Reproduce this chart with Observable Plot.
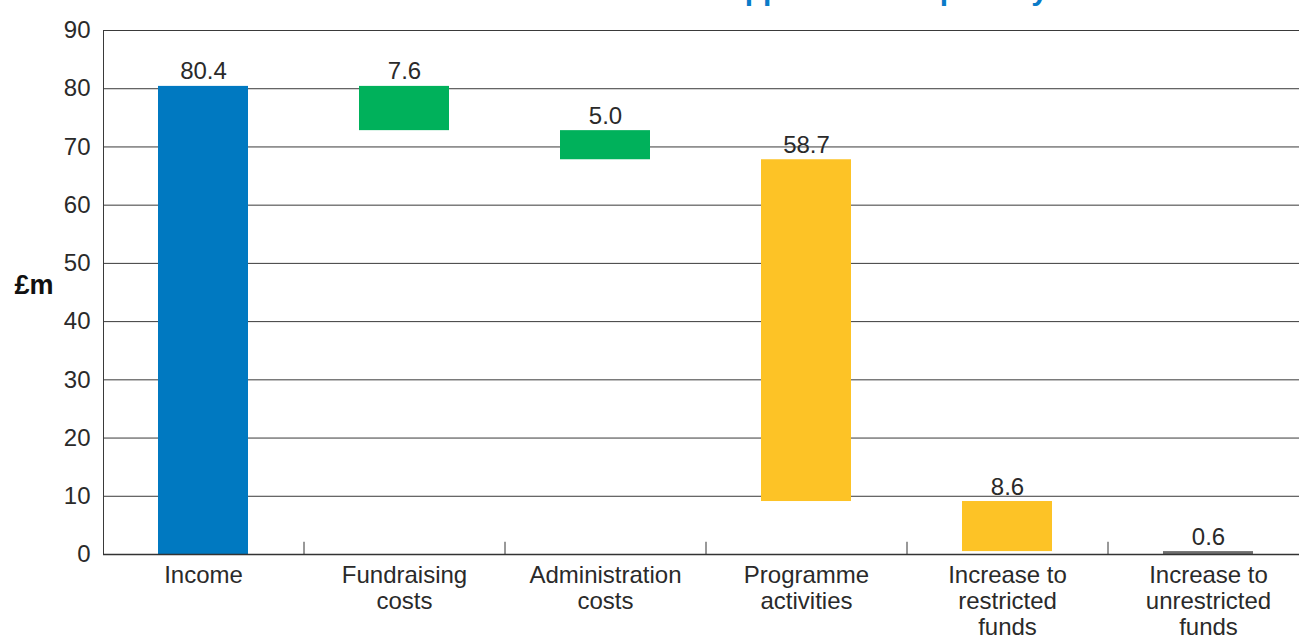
<!DOCTYPE html>
<html>
<head>
<meta charset="utf-8">
<script src="https://cdn.jsdelivr.net/npm/d3@7"></script>
<script src="https://cdn.jsdelivr.net/npm/@observablehq/plot@0.6"></script>
<style>
  html, body { margin: 0; padding: 0; background: #fff; overflow: hidden; width: 1299px; height: 638px; }
  #wrap { position: relative; width: 1299px; height: 638px; overflow: hidden; }
  #title { position: absolute; left: 0; top: 0; width: 1299px; height: 20px; overflow: hidden; }
  #chart { position: absolute; left: 0; top: 0; width: 1299px; height: 638px; overflow: hidden; }
</style>
</head>
<body>
<div id="wrap">
  <div id="chart"></div>
  <svg id="title" width="1299" height="20" viewBox="0 0 1299 20">
    <text x="1048" y="0" text-anchor="end" font-family="'Liberation Sans', Arial, sans-serif" font-weight="bold" font-size="30" fill="#0A7BC8">How our income was applied to end poverty</text>
  </svg>
</div>
<script>
const categories = ["Income", "Fundraising costs", "Administration costs", "Programme activities", "Increase to restricted funds", "Increase to unrestricted funds"];
const categoryLabels = ["Income", "Fundraising\ncosts", "Administration\ncosts", "Programme\nactivities", "Increase to\nrestricted\nfunds", "Increase to\nunrestricted\nfunds"];
const amounts = [80.4, 7.6, 5.0, 58.7, 8.6, 0.6];
const barColors = ["#0079C1", "#00B15B", "#00B15B", "#FDC326", "#FDC326", "#6E6E6E"];
const yTicks = [0, 10, 20, 30, 40, 50, 60, 70, 80, 90];

// waterfall table built from the arrays
let level = 0;
const rows = categories.map((c, i) => {
  let top, bottom;
  if (i === 0) { bottom = 0; top = amounts[i]; level = top; }
  else { top = level; bottom = level - amounts[i]; level = bottom; }
  return { category: c, label: categoryLabels[i], amount: amounts[i], top, bottom, color: barColors[i] };
});
const labelOf = new Map(categories.map((c, i) => [c, categoryLabels[i]]));

const chart = Plot.plot({
  width: 1299,
  height: 638,
  marginLeft: 103,
  marginRight: 0,
  marginTop: 30,
  marginBottom: 84,
  style: { fontFamily: "'Liberation Sans', Arial, sans-serif", fontSize: "24px", color: "#2a2a2a", background: "transparent" },
  x: { domain: categories, range: [103, 1309], paddingInner: 0.55, paddingOuter: 0.275, align: 0.5, label: null },
  y: { domain: [0, 90], label: null },
  marks: [
    Plot.ruleY(yTicks, { stroke: "#3a3a3a", strokeWidth: 1 }),
    Plot.frame({ anchor: "left", stroke: "#3a3a3a" }),
    Plot.barY(rows, { x: "category", y1: "bottom", y2: "top", fill: "color" }),
    Plot.ruleY([0], { stroke: "#333", strokeWidth: 1.5 }),
    Plot.ruleX(categories.slice(0, 5), { x: d => d, dx: 100.5, y1: 0, y2: 2.1, stroke: "#333" }),
    Plot.text(rows, { x: "category", y: "top", text: d => d.amount.toFixed(1), dy: -7, lineAnchor: "bottom", fontSize: 24, fill: "#2a2a2a" }),
    Plot.axisY(yTicks, { tickSize: 0, tickPadding: 13, fontSize: 24, label: null }),
    Plot.axisX({ tickSize: 0, tickPadding: 10, fontSize: 24, lineHeight: 1.08, tickFormat: d => labelOf.get(d), label: null }),
    Plot.text(["£m"], { frameAnchor: "left", dx: -89, dy: -7, textAnchor: "start", fontWeight: "bold", fontSize: 27, fill: "#111" })
  ]
});
document.getElementById("chart").appendChild(chart);
</script>
</body>
</html>
